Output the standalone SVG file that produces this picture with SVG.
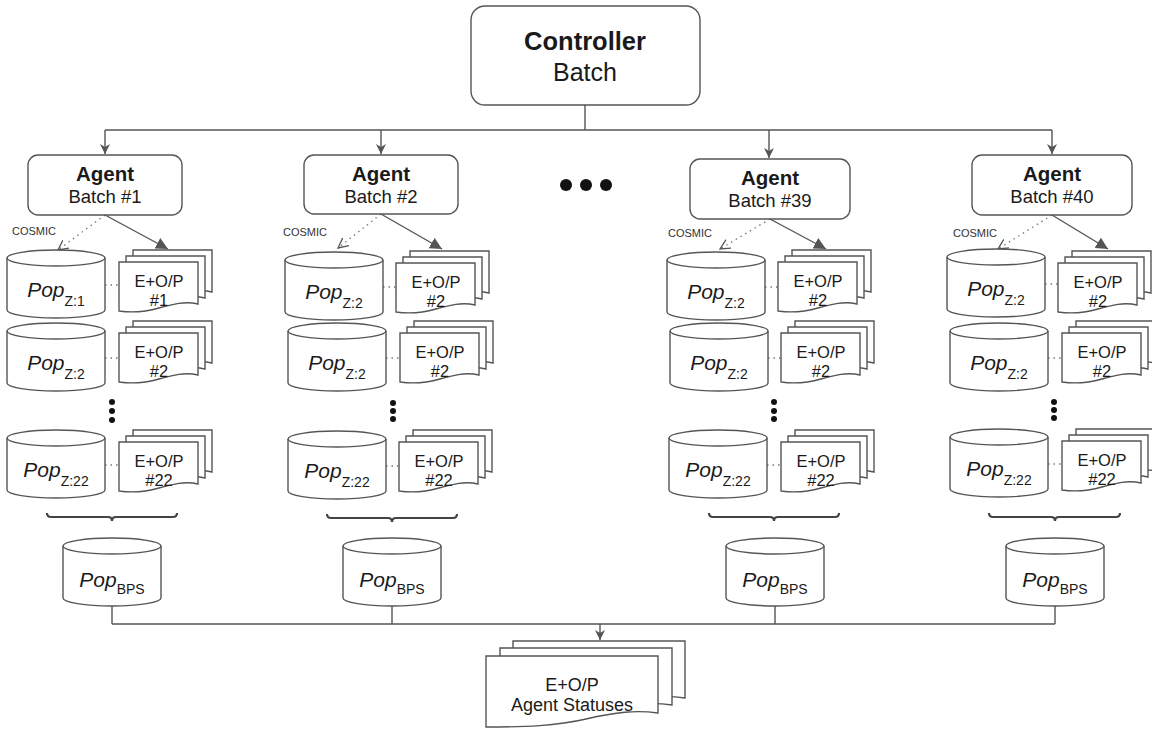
<svg xmlns="http://www.w3.org/2000/svg" width="1152" height="731" viewBox="0 0 1152 731">
<style>
.box{fill:#fff;stroke:#555;stroke-width:1.4}
.ln{fill:none;stroke:#555;stroke-width:1.4}
.dot{fill:none;stroke:#777;stroke-width:1.3;stroke-dasharray:1.5 4}
.brace{fill:none;stroke:#444;stroke-width:2.2}
text{font-family:"Liberation Sans",Arial,sans-serif;fill:#1a1a1a}
.t19b{font-size:20.5px;font-weight:bold}
.t18{font-size:18.5px}
.t16{font-size:16.5px}
.pop{font-size:21px}
.sub{font-size:14px;font-style:normal}
.cos{font-size:11px;fill:#333}
</style>
<defs>
<marker id="arr" markerUnits="userSpaceOnUse" markerWidth="12" markerHeight="12" refX="10" refY="6" orient="auto">
<path d="M0,1 L10,6 L0,11 L3,6 Z" fill="#555"/>
</marker>
<marker id="blk" markerUnits="userSpaceOnUse" markerWidth="14" markerHeight="14" refX="12" refY="6" orient="auto">
<path d="M0,0 L12,6 L0,12 Z" fill="#555"/>
</marker>
<marker id="opn" markerUnits="userSpaceOnUse" markerWidth="14" markerHeight="14" refX="10" refY="6" orient="auto">
<path d="M0,1 L10,6 L0,11" fill="none" stroke="#555" stroke-width="1.3"/>
</marker>
<g id="cyl">
<path class="box" d="M0,8 A49,8 0 0 1 98,8 V60 A49,8 0 0 1 0,60 Z"/>
<path class="ln" d="M0,8 A49,8 0 0 0 98,8"/>
</g>
<path id="doc" class="box" d="M0,0 H79 V42 C66,39 54,42 40,46 C26,50 14,51 0,49 Z"/>
<g id="stack">
<use href="#doc" x="14" y="0"/>
<use href="#doc" x="7" y="6"/>
<use href="#doc" x="0" y="12"/>
</g>
<path id="bdoc" class="box" d="M0,0 H172 V57 C150,54 130,56 100,63 C70,70 40,71 0,71 Z"/>
</defs>

<g id="connectors">
<path class="ln" d="M585,105 V130 M105,130 H1052"/>
<path class="ln" d="M105,130 V154" marker-end="url(#arr)"/>
<path class="ln" d="M381,130 V154" marker-end="url(#arr)"/>
<path class="ln" d="M769,130 V158" marker-end="url(#arr)"/>
<path class="ln" d="M1052,130 V154" marker-end="url(#arr)"/>
<path class="dot" d="M105,215 L58,250" marker-end="url(#opn)"/>
<path class="ln" d="M105,215 L168,249" marker-end="url(#blk)"/>
<path class="dot" d="M381,214 L338,248" marker-end="url(#opn)"/>
<path class="ln" d="M381,214 L442,249" marker-end="url(#blk)"/>
<path class="dot" d="M770,219 L720,249" marker-end="url(#opn)"/>
<path class="ln" d="M770,219 L826,249" marker-end="url(#blk)"/>
<path class="dot" d="M1052,215 L998,249" marker-end="url(#opn)"/>
<path class="ln" d="M1052,215 L1108,249" marker-end="url(#blk)"/>
<path class="dot" d="M105,285 H119 M105,358 H119 M105,465 H119"/>
<path class="dot" d="M383,287 H396 M386,358 H400 M386,466 H399"/>
<path class="dot" d="M765,287 H778 M768,358 H781 M767,465 H781"/>
<path class="dot" d="M1045,284 H1058 M1048,358 H1062 M1048,464 H1062"/>
<path class="ln" d="M112,606 V624 M392,606 V624 M775,606 V624 M1055,606 V624 M112,624 H1055"/>
<path class="ln" d="M600,624 V640" marker-end="url(#arr)"/>
</g>

<g id="controller">
<rect class="box" x="471" y="6" width="229" height="99" rx="14"/>
<text x="585" y="50" text-anchor="middle" style="font-size:25.5px;font-weight:bold">Controller</text>
<text x="585" y="81" text-anchor="middle" style="font-size:25px">Batch</text>
</g>

<g id="ellipsis">
<circle cx="566" cy="185" r="6" fill="#111"/>
<circle cx="586" cy="185" r="6" fill="#111"/>
<circle cx="606" cy="185" r="6" fill="#111"/>
</g>

<g id="agent1">
<rect class="box" x="28" y="155" width="154" height="60" rx="10"/>
<text class="t19b" x="105" y="181" text-anchor="middle">Agent</text>
<text class="t18" x="105" y="203" text-anchor="middle">Batch #1</text>
</g>
<text class="cos" x="12" y="235">COSMIC</text>
<g id="pop1_1"><use href="#cyl" x="7" y="250"/><text class="pop" x="56" y="297" text-anchor="middle"><tspan font-style="italic">Pop</tspan><tspan class="sub" dy="9">Z:1</tspan></text></g>
<g id="doc1_1"><use href="#stack" x="119" y="250"/><text class="t16" x="159" y="287" text-anchor="middle">E+O/P</text><text class="t16" x="159" y="306" text-anchor="middle">#1</text></g>
<g id="pop1_2"><use href="#cyl" x="7" y="323"/><text class="pop" x="56" y="370" text-anchor="middle"><tspan font-style="italic">Pop</tspan><tspan class="sub" dy="9">Z:2</tspan></text></g>
<g id="doc1_2"><use href="#stack" x="119" y="321"/><text class="t16" x="159" y="358" text-anchor="middle">E+O/P</text><text class="t16" x="159" y="377" text-anchor="middle">#2</text></g>
<g id="vdots1" fill="#111"><circle cx="112" cy="402" r="3"/><circle cx="112" cy="411" r="3"/><circle cx="112" cy="420" r="3"/></g>
<g id="pop1_22"><use href="#cyl" x="7" y="430"/><text class="pop" x="56" y="477" text-anchor="middle"><tspan font-style="italic">Pop</tspan><tspan class="sub" dy="9">Z:22</tspan></text></g>
<g id="doc1_22"><use href="#stack" x="119" y="430"/><text class="t16" x="159" y="467" text-anchor="middle">E+O/P</text><text class="t16" x="159" y="486" text-anchor="middle">#22</text></g>
<path class="brace" d="M47,513 Q47,517 51,517 H108 Q112,517 112,521 Q112,517 116,517 H173 Q177,517 177,513"/>
<g id="bps1"><use href="#cyl" x="63" y="538"/><text class="pop" x="112" y="587" text-anchor="middle"><tspan font-style="italic">Pop</tspan><tspan class="sub" dy="7">BPS</tspan></text></g>

<g id="agent2">
<rect class="box" x="304" y="155" width="154" height="59" rx="10"/>
<text class="t19b" x="381" y="181" text-anchor="middle">Agent</text>
<text class="t18" x="381" y="203" text-anchor="middle">Batch #2</text>
</g>
<text class="cos" x="283" y="236">COSMIC</text>
<g id="pop2_1"><use href="#cyl" x="285" y="252"/><text class="pop" x="334" y="299" text-anchor="middle"><tspan font-style="italic">Pop</tspan><tspan class="sub" dy="9">Z:2</tspan></text></g>
<g id="doc2_1"><use href="#stack" x="396" y="251"/><text class="t16" x="436" y="288" text-anchor="middle">E+O/P</text><text class="t16" x="436" y="307" text-anchor="middle">#2</text></g>
<g id="pop2_2"><use href="#cyl" x="288" y="323"/><text class="pop" x="337" y="370" text-anchor="middle"><tspan font-style="italic">Pop</tspan><tspan class="sub" dy="9">Z:2</tspan></text></g>
<g id="doc2_2"><use href="#stack" x="400" y="321"/><text class="t16" x="440" y="358" text-anchor="middle">E+O/P</text><text class="t16" x="440" y="377" text-anchor="middle">#2</text></g>
<g id="vdots2" fill="#111"><circle cx="393" cy="403" r="3"/><circle cx="393" cy="411" r="3"/><circle cx="393" cy="419" r="3"/></g>
<g id="pop2_22"><use href="#cyl" x="288" y="431"/><text class="pop" x="337" y="478" text-anchor="middle"><tspan font-style="italic">Pop</tspan><tspan class="sub" dy="9">Z:22</tspan></text></g>
<g id="doc2_22"><use href="#stack" x="399" y="430"/><text class="t16" x="439" y="467" text-anchor="middle">E+O/P</text><text class="t16" x="439" y="486" text-anchor="middle">#22</text></g>
<path class="brace" d="M327,514 Q327,518 331,518 H388 Q392,518 392,522 Q392,518 396,518 H453 Q457,518 457,514"/>
<g id="bps2"><use href="#cyl" x="343" y="538"/><text class="pop" x="392" y="587" text-anchor="middle"><tspan font-style="italic">Pop</tspan><tspan class="sub" dy="7">BPS</tspan></text></g>

<g id="agent39">
<rect class="box" x="690" y="159" width="160" height="60" rx="10"/>
<text class="t19b" x="770" y="185" text-anchor="middle">Agent</text>
<text class="t18" x="770" y="207" text-anchor="middle">Batch #39</text>
</g>
<text class="cos" x="668" y="237">COSMIC</text>
<g id="pop3_1"><use href="#cyl" x="667" y="252"/><text class="pop" x="716" y="299" text-anchor="middle"><tspan font-style="italic">Pop</tspan><tspan class="sub" dy="9">Z:2</tspan></text></g>
<g id="doc3_1"><use href="#stack" x="778" y="250"/><text class="t16" x="818" y="287" text-anchor="middle">E+O/P</text><text class="t16" x="818" y="306" text-anchor="middle">#2</text></g>
<g id="pop3_2"><use href="#cyl" x="670" y="323"/><text class="pop" x="719" y="370" text-anchor="middle"><tspan font-style="italic">Pop</tspan><tspan class="sub" dy="9">Z:2</tspan></text></g>
<g id="doc3_2"><use href="#stack" x="781" y="321"/><text class="t16" x="821" y="358" text-anchor="middle">E+O/P</text><text class="t16" x="821" y="377" text-anchor="middle">#2</text></g>
<g id="vdots3" fill="#111"><circle cx="774" cy="402" r="3"/><circle cx="774" cy="411" r="3"/><circle cx="774" cy="419" r="3"/></g>
<g id="pop3_22"><use href="#cyl" x="669" y="430"/><text class="pop" x="718" y="477" text-anchor="middle"><tspan font-style="italic">Pop</tspan><tspan class="sub" dy="9">Z:22</tspan></text></g>
<g id="doc3_22"><use href="#stack" x="781" y="430"/><text class="t16" x="821" y="467" text-anchor="middle">E+O/P</text><text class="t16" x="821" y="486" text-anchor="middle">#22</text></g>
<path class="brace" d="M709,513 Q709,517 713,517 H770 Q774,517 774,521 Q774,517 778,517 H835 Q839,517 839,513"/>
<g id="bps39"><use href="#cyl" x="726" y="538"/><text class="pop" x="775" y="587" text-anchor="middle"><tspan font-style="italic">Pop</tspan><tspan class="sub" dy="7">BPS</tspan></text></g>

<g id="agent40">
<rect class="box" x="972" y="155" width="160" height="60" rx="10"/>
<text class="t19b" x="1052" y="181" text-anchor="middle">Agent</text>
<text class="t18" x="1052" y="203" text-anchor="middle">Batch #40</text>
</g>
<text class="cos" x="953" y="237">COSMIC</text>
<g id="pop4_1"><use href="#cyl" x="947" y="249"/><text class="pop" x="996" y="296" text-anchor="middle"><tspan font-style="italic">Pop</tspan><tspan class="sub" dy="9">Z:2</tspan></text></g>
<g id="doc4_1"><use href="#stack" x="1058" y="251"/><text class="t16" x="1098" y="288" text-anchor="middle">E+O/P</text><text class="t16" x="1098" y="307" text-anchor="middle">#2</text></g>
<g id="pop4_2"><use href="#cyl" x="950" y="323"/><text class="pop" x="999" y="370" text-anchor="middle"><tspan font-style="italic">Pop</tspan><tspan class="sub" dy="9">Z:2</tspan></text></g>
<g id="doc4_2"><use href="#stack" x="1062" y="321"/><text class="t16" x="1102" y="358" text-anchor="middle">E+O/P</text><text class="t16" x="1102" y="377" text-anchor="middle">#2</text></g>
<g id="vdots4" fill="#111"><circle cx="1054" cy="402" r="3"/><circle cx="1054" cy="410" r="3"/><circle cx="1054" cy="418" r="3"/></g>
<g id="pop4_22"><use href="#cyl" x="950" y="429"/><text class="pop" x="999" y="476" text-anchor="middle"><tspan font-style="italic">Pop</tspan><tspan class="sub" dy="9">Z:22</tspan></text></g>
<g id="doc4_22"><use href="#stack" x="1062" y="429"/><text class="t16" x="1102" y="466" text-anchor="middle">E+O/P</text><text class="t16" x="1102" y="485" text-anchor="middle">#22</text></g>
<path class="brace" d="M989,513 Q989,517 993,517 H1051 Q1055,517 1055,521 Q1055,517 1059,517 H1116 Q1120,517 1120,513"/>
<g id="bps40"><use href="#cyl" x="1006" y="538"/><text class="pop" x="1055" y="587" text-anchor="middle"><tspan font-style="italic">Pop</tspan><tspan class="sub" dy="7">BPS</tspan></text></g>

<g id="statuses">
<use href="#bdoc" x="513" y="641"/>
<use href="#bdoc" x="500" y="648"/>
<use href="#bdoc" x="486" y="656"/>
<text x="572" y="691" text-anchor="middle" style="font-size:18px">E+O/P</text>
<text x="572" y="711" text-anchor="middle" style="font-size:18px">Agent Statuses</text>
</g>
</svg>
